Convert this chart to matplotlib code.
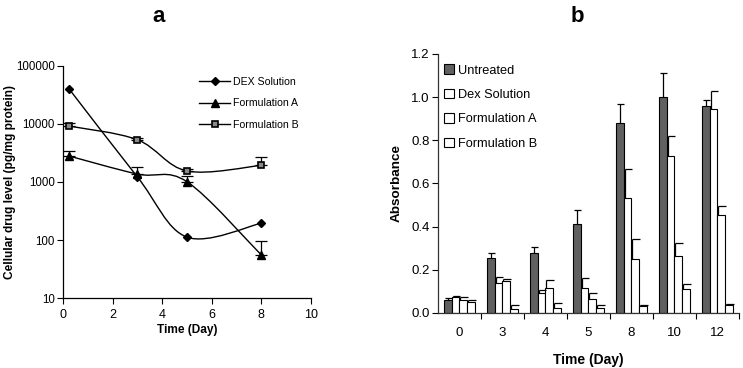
import numpy as np
import matplotlib
matplotlib.use("Agg")
import matplotlib.pyplot as plt
from matplotlib.path import Path
from matplotlib.patches import PathPatch, Patch
from matplotlib.lines import Line2D

plt.rcParams['font.family'] = ['Liberation Sans', 'DejaVu Sans']

# ---------------- data: panel a ----------------
time_a = [0.25, 3, 5, 8]
dex_solution = [40000, 1220, 112, 195]
dex_solution_err = [0, 0, 0, 0]
formulation_a = [2800, 1370, 1010, 55]
formulation_a_err = [660, 420, 260, 42]
formulation_b = [9200, 5350, 1545, 1935]
formulation_b_err = [1000, 430, 130, 755]
yticks_a = [10, 100, 1000, 10000, 100000]

# ---------------- data: panel b ----------------
days = ['0', '3', '4', '5', '8', '10', '12']
untreated = [0.062, 0.255, 0.28, 0.413, 0.878, 1.0, 0.957]
untreated_err = [0.008, 0.025, 0.028, 0.062, 0.092, 0.11, 0.031]
dex_sol = [0.074, 0.139, 0.093, 0.118, 0.535, 0.727, 0.945]
dex_sol_err = [0.006, 0.028, 0.015, 0.042, 0.13, 0.093, 0.085]
form_a_abs = [0.062, 0.148, 0.118, 0.065, 0.25, 0.264, 0.453]
form_a_abs_err = [0.012, 0.008, 0.034, 0.026, 0.093, 0.058, 0.042]
form_b_abs = [0.051, 0.02, 0.025, 0.025, 0.033, 0.11, 0.038]
form_b_abs_err = [0.011, 0.017, 0.021, 0.014, 0.005, 0.025, 0.004]

fig = plt.figure(figsize=(7.43, 3.68), dpi=100)

# ================= panel a =================
axa = fig.add_axes([0.0848, 0.1902, 0.3338, 0.6305])
axa.set_yscale('log')
axa.set_xlim(0, 10)
axa.set_ylim(10, 100000)


def smooth_path(x, y):
    pts = np.column_stack([np.asarray(x, float), np.log10(np.asarray(y, float))])
    verts = [pts[0]]
    codes = [Path.MOVETO]
    n = len(pts)
    for i in range(n - 1):
        p0 = pts[i - 1] if i > 0 else pts[i]
        p1 = pts[i]
        p2 = pts[i + 1]
        p3 = pts[i + 2] if i + 2 < n else pts[i + 1]
        c1 = p1 + (p2 - p0) / 6.0
        c2 = p2 - (p3 - p1) / 6.0
        verts += [c1, c2, p2]
        codes += [Path.CURVE4] * 3
    verts = np.array(verts)
    verts[:, 1] = 10 ** verts[:, 1]
    return Path(verts, codes)


series = [
    (dex_solution, dex_solution_err, 'DEX Solution', dict(marker='D', ms=4.5, mfc='black', mec='black')),
    (formulation_a, formulation_a_err, 'Formulation A', dict(marker='^', ms=6, mfc='black', mec='black')),
    (formulation_b, formulation_b_err, 'Formulation B', dict(marker='s', ms=5, mfc='#8a8a8a', mec='black', mew=1.2)),
]
handles = []
for vals, err, lab, mk in series:
    axa.add_patch(PathPatch(smooth_path(time_a, vals), fill=False, lw=1.0, ec='black', zorder=2))
    if any(e > 0 for e in err):
        axa.errorbar(time_a, vals, yerr=[np.zeros(len(err)), err], fmt='none',
                     ecolor='black', elinewidth=0.9, capsize=4, capthick=0.9, zorder=2)
    axa.plot(time_a, vals, linestyle='none', zorder=3, **mk)
    handles.append(Line2D([0], [0], color='black', lw=1.0, **mk))

axa.set_xticks([0, 2, 4, 6, 8, 10])
axa.set_yticks(yticks_a)
axa.set_yticklabels([str(v) for v in yticks_a])
axa.yaxis.set_minor_locator(matplotlib.ticker.NullLocator())
axa.tick_params(axis='x', direction='out', length=4, width=0.8, labelsize=9, pad=4)
axa.tick_params(axis='y', direction='out', length=4, width=0.8, labelsize=8.3, pad=2)
for s in ['top', 'right']:
    axa.spines[s].set_visible(False)
for s in ['left', 'bottom']:
    axa.spines[s].set_linewidth(0.9)
axa.set_xlabel('Time (Day)', fontsize=8.6, fontweight='bold', labelpad=2)
axa.set_ylabel('Cellular drug level (pg/mg protein)', fontsize=8.6, fontweight='bold')
axa.yaxis.set_label_coords(-0.19, 0.5)
axa.legend(handles, [s[2] for s in series], loc='upper left', bbox_to_anchor=(0.52, 0.985),
           frameon=False, fontsize=7.6, handlelength=2.9, handletextpad=0.3,
           labelspacing=1.1, borderpad=0.2)
fig.text(0.214, 0.955, 'a', fontsize=16, fontweight='bold', ha='center', va='center')

# ================= panel b =================
axb = fig.add_axes([0.5895, 0.1495, 0.4051, 0.7038])
x = np.arange(len(days))
w = 0.18
groups = [
    (untreated, untreated_err, 'Untreated', '#606060'),
    (dex_sol, dex_sol_err, 'Dex Solution', 'white'),
    (form_a_abs, form_a_abs_err, 'Formulation A', 'white'),
    (form_b_abs, form_b_abs_err, 'Formulation B', 'white'),
]
offsets = [-1.5 * w, -0.5 * w, 0.5 * w, 1.5 * w]
for (vals, err, lab, col), off in zip(groups, offsets):
    pos = x + off
    axb.bar(pos, vals, width=w, color=col, edgecolor='black', linewidth=0.8, zorder=2)
    tops = np.array(vals) + np.array(err)
    if col == 'white':
        ex = pos - w / 2 + 0.02
        axb.vlines(ex, vals, tops, color='black', lw=0.9, zorder=3)
        axb.hlines(tops, ex, pos + w / 2 + 0.02, color='black', lw=0.9, zorder=3)
    else:
        axb.vlines(pos, vals, tops, color='black', lw=0.9, zorder=3)
        axb.hlines(tops, pos - w * 0.4, pos + w * 0.5, color='black', lw=0.9, zorder=3)

axb.set_xlim(-0.5, len(days) - 0.5)
axb.set_ylim(0, 1.2)
axb.set_yticks(np.arange(0, 1.21, 0.2))
axb.set_yticklabels(['%.1f' % v for v in np.arange(0, 1.21, 0.2)])
axb.set_xticks(x)
axb.set_xticklabels(days)
axb.set_xticks(np.arange(0.5, len(days), 1.0), minor=True)
axb.tick_params(axis='x', which='major', length=0, labelsize=9.5, pad=10)
axb.tick_params(axis='x', which='minor', direction='out', length=4, width=0.8)
axb.tick_params(axis='y', direction='out', length=4, width=0.8, labelsize=9.5, pad=2)
for s in ['top', 'right']:
    axb.spines[s].set_visible(False)
for s in ['left', 'bottom']:
    axb.spines[s].set_linewidth(0.9)
    axb.spines[s].set_color('#333333')
axb.set_xlabel('Time (Day)', fontsize=10, fontweight='bold', labelpad=10)
axb.set_ylabel('Absorbance', fontsize=9.7, fontweight='bold', labelpad=6)
leg_handles = [Patch(facecolor=g[3], edgecolor='black', linewidth=0.8) for g in groups]
axb.legend(leg_handles, [g[2] for g in groups], loc='upper left', bbox_to_anchor=(-0.01, 0.995),
           frameon=False, fontsize=9.2, handlelength=0.8, handleheight=0.8,
           handletextpad=0.3, labelspacing=0.95, borderpad=0.2)
fig.text(0.7765, 0.955, 'b', fontsize=16, fontweight='bold', ha='center', va='center')

fig.savefig('out.png', dpi=100)
